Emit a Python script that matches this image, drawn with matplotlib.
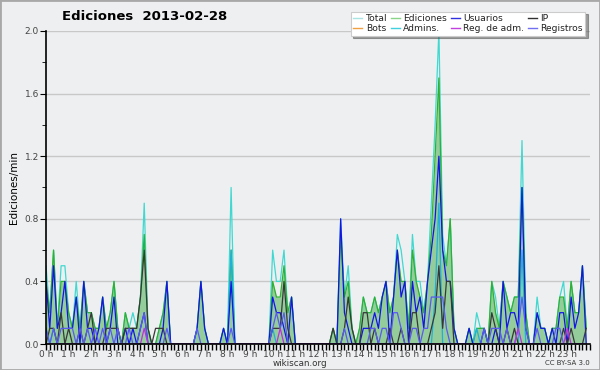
import numpy as np
import matplotlib
matplotlib.use('Agg')
import matplotlib.pyplot as plt
from matplotlib.lines import Line2D
from matplotlib.ticker import MultipleLocator

# valores por tramo de 10 minutos (ediciones/min), 6 por hora
total = [0.5,0.2,0.6,0.1,0.5,0.5, 0.2,0.1,0.4,0.1,0.4,0.2, 0.2,0.1,0.1,0.3,0.1,0.2,
         0.4,0.1,0.0,0.2,0.1,0.2, 0.1,0.3,0.9,0.1,0.0,0.0, 0.1,0.2,0.4,0.0,0.0,0.0,
         0,0,0,0,0.1,0.4, 0.1,0,0,0,0,0.1, 0,1.0,0,0,0,0,
         0,0,0,0,0,0, 0.6,0.4,0.4,0.6,0.2,0.3, 0,0,0,0,0,0,
         0,0,0,0,0.1,0, 0.8,0.3,0.5,0.1,0,0.1, 0.3,0.2,0.2,0.3,0.2,0.3,
         0.4,0.2,0.3,0.7,0.6,0.4, 0.1,0.7,0.4,0.4,0.2,0.4, 0.9,1.4,2.0,0.7,0.5,0.8,
         0.1,0,0,0,0.1,0, 0.2,0.1,0.1,0.0,0.4,0.3, 0.1,0.4,0.3,0.2,0.3,0.3,
         1.3,0.2,0.0,0.0,0.3,0.1, 0.1,0.0,0.1,0.1,0.3,0.4, 0.1,0.4,0.2,0.2,0.5,0.1]
ediciones = [0.4,0.2,0.6,0.1,0.4,0.4, 0.2,0.1,0.3,0.1,0.4,0.2, 0.2,0.1,0.1,0.3,0.1,0.2,
             0.4,0.1,0.0,0.2,0.1,0.1, 0.1,0.3,0.7,0.1,0.0,0.0, 0.1,0.2,0.4,0,0,0,
             0,0,0,0,0.1,0.4, 0.1,0,0,0,0,0.1, 0,0.6,0,0,0,0,
             0,0,0,0,0,0, 0.4,0.3,0.3,0.5,0.2,0.3, 0,0,0,0,0,0,
             0,0,0,0,0.1,0, 0.7,0.3,0.4,0.1,0,0.1, 0.3,0.2,0.2,0.3,0.2,0.3,
             0.4,0.2,0.3,0.6,0.4,0.4, 0.1,0.6,0.4,0.3,0.2,0.4, 0.7,1.2,1.7,0.6,0.5,0.8,
             0.1,0,0,0,0.1,0, 0.1,0.1,0.1,0.0,0.4,0.2, 0.1,0.4,0.3,0.2,0.3,0.3,
             1.0,0.2,0,0,0.2,0.1, 0.1,0,0.1,0.1,0.3,0.3, 0.1,0.4,0.2,0.2,0.5,0.1]
usuarios = [0.4,0.1,0.5,0.1,0.2,0.4, 0.1,0.1,0.3,0.0,0.4,0.1, 0.1,0.0,0.1,0.3,0.0,0.1,
            0.3,0.0,0.0,0.1,0.0,0.1, 0.0,0.1,0.2,0.0,0,0, 0.0,0.1,0.4,0,0,0,
            0,0,0,0,0.1,0.4, 0.1,0,0,0,0,0.1, 0,0.4,0,0,0,0,
            0,0,0,0,0,0, 0.3,0.2,0.2,0.1,0.0,0.3, 0,0,0,0,0,0,
            0,0,0,0,0,0, 0.8,0.2,0.1,0,0,0, 0.1,0.1,0.1,0.2,0.1,0.3,
            0.4,0.0,0.3,0.6,0.3,0.4, 0.0,0.4,0.2,0.3,0.1,0.4, 0.6,0.8,1.2,0.6,0.4,0.4,
            0.1,0,0,0,0.1,0, 0.0,0.0,0.1,0,0.0,0.1, 0.0,0.4,0.1,0.2,0.2,0.1,
            1.0,0.1,0,0,0.2,0.1, 0.1,0,0.1,0.0,0.2,0.2, 0.0,0.3,0.1,0.2,0.5,0.0]
ip = [0.0,0.1,0.1,0.0,0.2,0.0, 0.1,0.0,0.0,0.1,0.0,0.1, 0.2,0.0,0.0,0.0,0.1,0.1,
      0.1,0.1,0.0,0.1,0.1,0.1, 0.1,0.3,0.6,0.1,0.0,0.1, 0.1,0.1,0.0,0,0,0,
      0,0,0,0,0,0, 0,0,0,0,0,0, 0,0,0,0,0,0,
      0,0,0,0,0,0, 0.1,0.1,0.1,0.4,0.1,0.0, 0,0,0,0,0,0,
      0,0,0,0,0.1,0, 0.0,0.1,0.3,0.1,0,0.0, 0.2,0.2,0.0,0.1,0.0,0.0,
      0.0,0.1,0.0,0.0,0.1,0.0, 0.0,0.2,0.2,0.0,0.0,0.0, 0.1,0.2,0.5,0.1,0.4,0.4,
      0,0,0,0,0,0, 0.0,0.0,0,0,0.2,0.1, 0.0,0.0,0.1,0.0,0.1,0.0,
      0.0,0.0,0,0,0,0, 0,0,0,0,0.0,0.1, 0.0,0.1,0.0,0.0,0.0,0.1]
admins = [0.1,0,0.1,0,0,0, 0,0,0,0,0,0, 0,0,0,0,0,0,
          0,0,0,0,0,0, 0,0,0,0,0,0, 0,0,0,0,0,0,
          0,0,0,0,0,0, 0,0,0,0,0,0, 0,0.6,0,0,0,0,
          0,0,0,0,0,0, 0.1,0,0,0,0,0, 0,0,0,0,0,0,
          0,0,0,0,0,0, 0,0,0,0,0,0, 0,0,0,0,0,0,
          0,0,0,0,0,0, 0,0,0,0,0,0, 0,0.3,0.9,0,0,0,
          0,0,0,0,0,0, 0.1,0,0,0,0,0, 0,0,0,0,0,0,
          0.6,0,0,0,0,0, 0,0,0,0,0,0, 0,0,0,0,0,0]
registros = [0.1,0.0,0.1,0.0,0.1,0.1, 0.1,0.1,0.0,0.1,0.0,0.1, 0.0,0.1,0.0,0.1,0.0,0.1,
             0.0,0.1,0.0,0.0,0.1,0.0, 0.0,0.1,0.2,0.0,0,0, 0,0,0.1,0,0,0,
             0,0,0,0,0.1,0, 0,0,0,0,0,0, 0,0.1,0,0,0,0,
             0,0,0,0,0,0, 0.1,0.2,0.1,0.2,0.0,0.0, 0,0,0,0,0,0,
             0,0,0,0,0,0, 0,0.1,0,0,0,0, 0,0,0.1,0.1,0.0,0.1,
             0.1,0.0,0.2,0.2,0.1,0.0, 0.0,0.1,0.1,0.0,0.1,0.1, 0.3,0.3,0.3,0.3,0.1,0.0,
             0,0,0,0,0,0, 0,0,0.1,0,0.1,0.1, 0.1,0,0.1,0,0,0.1,
             0.3,0.1,0,0,0.1,0, 0,0,0,0.1,0.1,0.0, 0,0,0,0,0,0]
reg_adm = [0]*144
for k in (26, 62, 125, 138):
    reg_adm[k] = 0.1
bots = [0]*144

horas = np.arange(144) / 6.0
etiquetas = ['%d h' % h for h in range(24)]

fig = plt.figure(figsize=(6, 3.7), dpi=100)
fig.patch.set_facecolor('#eeeff1')
fig.add_artist(plt.Rectangle((0, 0), 1, 1, transform=fig.transFigure, fill=False,
                             edgecolor='#a8a8a8', linewidth=2))
ax = fig.add_axes([46/600, 26/370, 544/600, 313/370])
ax.set_facecolor('#eeeff1')

ax.fill_between(horas, ediciones, color='#94cc9c', linewidth=0, zorder=2)
ax.plot(horas, total, color='#40d8d0', lw=0.9, zorder=3)
ax.plot(horas, ediciones, color='#30b030', lw=0.9, zorder=3)
ax.plot(horas, admins, color='#20b0d8', lw=0.9, zorder=3)
ax.plot(horas, usuarios, color='#1414e6', lw=0.9, zorder=4)
ax.plot(horas, ip, color='#383838', lw=0.9, zorder=4)
ax.plot(horas, registros, color='#5a5af0', lw=0.9, zorder=4)
ax.plot(horas, reg_adm, color='#c030e0', lw=0.9, zorder=4)

ax.set_xlim(0, 24)
ax.set_ylim(0, 2.0)
ax.set_xticks(range(24))
ax.set_xticklabels(etiquetas)
ax.xaxis.set_minor_locator(MultipleLocator(1/6))
ax.yaxis.set_major_locator(MultipleLocator(0.4))
ax.yaxis.set_minor_locator(MultipleLocator(0.2))
ax.yaxis.set_major_formatter(matplotlib.ticker.FormatStrFormatter('%.1f'))
ax.tick_params(axis='both', which='both', direction='out', color='black',
               labelsize=6.5, labelcolor='#444444')
ax.tick_params(axis='x', which='major', length=4, width=1, pad=0)
ax.tick_params(axis='x', which='minor', length=4, width=1)
ax.tick_params(axis='y', which='major', length=4, pad=1)
ax.tick_params(axis='y', which='minor', length=3)
ax.grid(axis='y', which='major', color='#c8c8c8', lw=1)
ax.set_axisbelow(True)
for s in ('top', 'right'):
    ax.spines[s].set_visible(False)
ax.spines['left'].set_linewidth(1.2)
ax.spines['bottom'].set_linewidth(1.2)
ax.spines['left'].set_zorder(6)
ax.spines['bottom'].set_zorder(6)
ax.set_ylabel('Ediciones/min', fontsize=7.5, labelpad=4)

fig.text(145/600, 1 - 17/370, 'Ediciones  2013-02-28', fontsize=9.5,
         fontweight='bold', ha='center', va='center')
fig.text(300/600, 1 - 363/370, 'wikiscan.org', fontsize=6.3, color='#333333',
         ha='center', va='center')
fig.text(590/600, 1 - 363/370, 'CC BY-SA 3.0', fontsize=5, color='#333333',
         ha='right', va='center')

nombres = ['Total', 'Bots', 'Ediciones', 'Admins.', 'Usuarios', 'Reg. de adm.', 'IP', 'Registros']
colores = ['#a8e4e4', '#f0a040', '#88d488', '#40d0e0', '#3030e0', '#c040e0', '#303030', '#7070f0']
manijas = [Line2D([], [], color=c, lw=1) for c in colores]
leg = fig.legend(manijas, nombres, ncol=4, loc='upper right',
                 bbox_to_anchor=(590/600, 1 - 7/370), fontsize=6.6,
                 handlelength=1.0, handletextpad=0.35, columnspacing=0.4,
                 labelspacing=0.05, borderpad=0.3, fancybox=False, shadow=True,
                 framealpha=1, edgecolor='#cccccc')
leg.get_frame().set_linewidth(0.8)
for t in leg.get_texts():
    t.set_color('#222222')

fig.savefig('out.png', dpi=100, facecolor=fig.get_facecolor())
